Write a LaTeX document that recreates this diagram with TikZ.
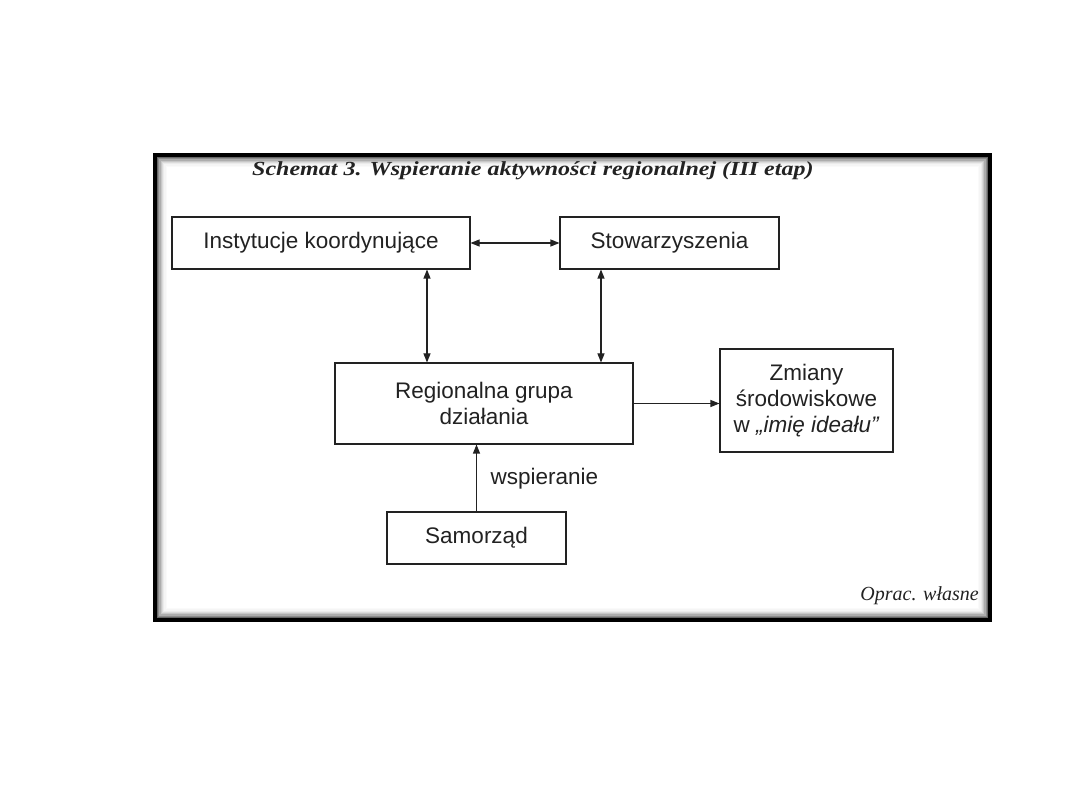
\documentclass[tikz,border=0pt]{standalone}
\usepackage{fontspec}
\setmainfont{Liberation Sans}
\newfontfamily\titlefont[FakeStretch=1.2]{Liberation Serif}
\newfontfamily\notefont{Liberation Serif}
\usetikzlibrary{arrows.meta}
\definecolor{ink}{HTML}{222222}
\begin{document}
\begin{tikzpicture}[x=1pt, y=-1pt,
    box/.style={draw=ink, line width=1.1pt, text=ink, align=center,
        font=\fontsize{22.5}{26}\selectfont, inner sep=0pt},
    link/.style={draw=ink, line width=1.1pt, -{Triangle[length=9pt, width=7pt]}},
    both/.style={link, {Triangle[length=9pt, width=7pt]}-{Triangle[length=9pt, width=7pt]}}]
        \useasboundingbox (0,0) rectangle (1080,810);

        % Frame with inner shadow
        \fill[white] (153,153) rectangle (992,622);
        \foreach \i/\o in {1/0.6, 2/0.45, 3/0.32, 4/0.22, 5/0.14, 6/0.08, 7/0.04, 8/0.02}
            \draw[black, opacity=\o, line width=1.3pt] (156+1.3*\i,156+1.3*\i) rectangle (989-1.3*\i,619-1.3*\i);
        \draw[black, line width=4pt] (155,155) rectangle (990,620);

        % Title
        \node[anchor=base west, inner sep=0pt, text=ink] (title) at (252,176)
            {\titlefont\fontsize{20}{22}\selectfont\bfseries\itshape Schemat 3. Wspieranie aktywności regionalnej (III etap)};

        % Boxes
        \node[box, minimum width=298pt, minimum height=52pt] (inst) at (321,243) {Instytucje koordynujące};
        \node[box, minimum width=219pt, minimum height=52pt] (stow) at (669.5,243) {Stowarzyszenia};
        \node[box, minimum width=298pt, minimum height=81pt] (reg) at (484,403.5) {Regionalna grupa\\działania};
        \node[box, minimum width=173pt, minimum height=103pt] (zmiany) at (806.5,400.5) {Zmiany\\środowiskowe\\w \textit{„imię ideału"}};
        \node[box, minimum width=179pt, minimum height=52pt] (sam) at (476.5,538) {Samorząd};

        % Helper points for the vertical links
        \coordinate (left) at (427,0);
        \coordinate (right) at (601,0);

        % Links
        \draw[both] (inst.east) -- (stow.west);
        \draw[both] (inst.south -| left) -- (reg.north -| left);
        \draw[both] (stow.south -| right) -- (reg.north -| right);
        \draw[link] (reg.east) -- (reg.east -| zmiany.west);
        \draw[link] (sam.north) -- (reg.south -| sam.north);

        % Labels
        \node[text=ink, font=\fontsize{22.5}{26}\selectfont, anchor=west] (wsp) at (487,479) {wspieranie};
        \node[text=ink, anchor=base east, inner sep=0pt] (note) at (979,600)
            {\notefont\fontsize{20}{22}\selectfont\itshape Oprac. własne};
    \end{tikzpicture}
\end{document}
